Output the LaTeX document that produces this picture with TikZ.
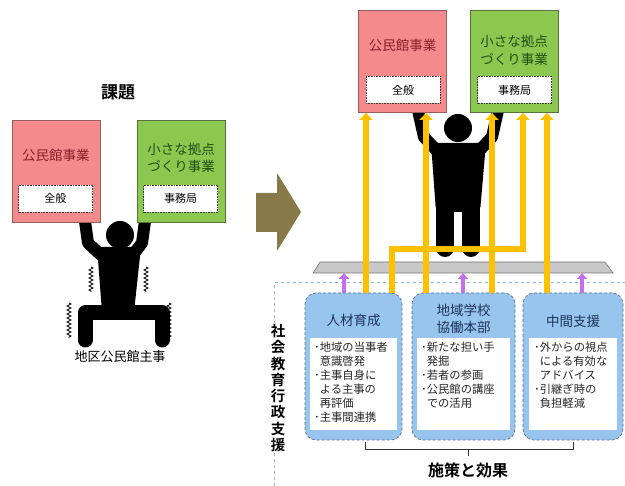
\documentclass[tikz,border=0pt]{standalone}
\usepackage{fontspec}
\setmainfont{Noto Sans CJK JP}[BoldFont={Noto Sans CJK JP Bold}]
\usetikzlibrary{arrows.meta,decorations.pathmorphing}

\definecolor{pinkfill}{RGB}{244,138,140}
\definecolor{pinkline}{RGB}{150,95,95}
\definecolor{pinktext}{RGB}{140,30,40}
\definecolor{greenfill}{RGB}{140,200,80}
\definecolor{greenline}{RGB}{85,115,60}
\definecolor{greentext}{RGB}{30,80,20}
\definecolor{bluefill}{RGB}{152,197,238}
\definecolor{blueline}{RGB}{90,110,140}
\definecolor{bluetext}{RGB}{30,50,90}
\definecolor{gold}{RGB}{255,192,0}
\definecolor{violet}{RGB}{196,112,240}
\definecolor{olive}{RGB}{135,122,72}
\definecolor{frameblue}{RGB}{150,180,215}
\definecolor{plate}{RGB}{200,200,200}

\begin{document}
\begin{tikzpicture}[x=1pt,y=-1pt,
  pinkbox/.style={draw=pinkline,fill=pinkfill,line width=0.8pt,inner sep=0pt,
    minimum width=88pt,minimum height=102pt},
  greenbox/.style={draw=greenline,fill=greenfill,line width=0.8pt,inner sep=0pt,
    minimum width=88pt,minimum height=102pt},
  memo/.style={draw=black!75,densely dotted,fill=white,line width=0.6pt,inner sep=0pt,
    minimum width=74pt,minimum height=27pt,font=\fontsize{11}{13}\selectfont},
  boxtitle/.style={align=center,font=\fontsize{13.5}{17.5}\selectfont},
  bluebox/.style={draw=blueline,densely dashed,fill=bluefill,line width=0.7pt,
    rounded corners=11pt,inner sep=0pt,minimum height=147pt},
  sheet/.style={fill=white,inner sep=0pt,minimum height=92pt},
  bluetitle/.style={align=center,text=bluetext,font=\fontsize{13.5}{17}\selectfont},
  bullets/.style={align=left,anchor=north west,inner sep=0pt,text=black!85,
    font=\fontsize{11.3}{14}\selectfont},
  yarrow/.style={draw=gold,line width=6pt,-{Triangle[width=13pt,length=7pt]}},
  parrow/.style={draw=violet,line width=4pt,-{Triangle[width=10pt,length=6pt]}},
  limb/.style={draw=black,line cap=round,line join=round},
  shiver/.style={decorate,decoration={zigzag,segment length=4pt,amplitude=2pt},line width=0.7pt},
  heading/.style={font=\bfseries\fontsize{17}{20}\selectfont}
]
\useasboundingbox (0,0) rectangle (625,486);

% ---------- left: the overloaded officer ----------
\node[heading] (issue) at (118,92) {課題};

% arms reaching up under the boxes
\draw[limb,line width=12pt] (84,214) -- (88,243) -- (102,256);
\draw[limb,line width=12pt] (146,214) -- (142,243) -- (132,256);
\fill[rounded corners=5pt] (97,247) -- (141,247) -- (134,312) -- (102,312) -- cycle;
\fill (120,235) circle[radius=14pt];
% bent legs
\draw[limb,line width=15pt] (85,340) -- (85,313) -- (162,313) -- (162,340);
% trembling marks
\draw[shiver] (91,267) -- (91,292);
\draw[shiver] (146,267) -- (146,292);
\draw[shiver] (69,303) -- (69,338);
\draw[shiver] (169,303) -- (169,338);

\node[pinkbox] (lp) at (56,171.5) {};
\node[boxtitle,text=pinktext] (lpt) at (56,155) {公民館事業};
\node[memo] (lpm) at (55.5,198.5) {全般};
\node[greenbox] (lg) at (181,171.5) {};
\node[boxtitle,text=greentext] (lgt) at (181,158) {小さな拠点\\づくり事業};
\node[memo] (lgm) at (180.5,198.5) {事務局};

\node[font=\fontsize{13}{15}\selectfont] (officer) at (120,357) {地区公民館主事};

% ---------- transition arrow ----------
\fill[olive] (256,193) -- (277,193) -- (277,173) -- (301,212) -- (277,251)
  -- (277,232) -- (256,232) -- cycle;

% ---------- right: the supported officer ----------
% support frame
\draw[frameblue,dashed,line width=1pt] (274,486) -- (274,283) -- (625,283);

% platform
\draw[draw=black!55,fill=plate,line width=0.6pt] (320,262) -- (605,262) -- (613,273) -- (313,273) -- cycle;
\coordinate (platbase) at (0,273);

% standing figure
\draw[limb,line width=12pt] (417,106) -- (424,137) -- (437,151);
\draw[limb,line width=12pt] (499,106) -- (492,137) -- (479,151);
\fill[rounded corners=5pt] (431,143) -- (486,143) -- (480,212) -- (436,212) -- cycle;
\fill (458,128) circle[radius=14pt];
\draw[limb,line width=18pt] (445,205) -- (445,248);
\draw[limb,line width=18pt] (471,205) -- (471,248);

% supported projects
\node[pinkbox] (p1) at (402.5,61.5) {};
\node[boxtitle,text=pinktext] (p1t) at (402.5,45) {公民館事業};
\node[memo] (p1m) at (403,90) {全般};
\node[greenbox] (g1) at (514,61.5) {};
\node[boxtitle,text=greentext] (g1t) at (514,50.5) {小さな拠点\\づくり事業};
\node[memo] (g1m) at (514.5,90) {事務局};

% measures
\node[bluebox,minimum width=97pt] (b1) at (353.5,366.5) {};
\node[sheet,minimum width=87pt] (s1) at (353.5,384) {};
\node[bluetitle] (b1t) at (353.5,320) {人材育成};
\node[bullets] (b1l) at (314,342) {･地域の当事者\\\hphantom{･}意識啓発\\･主事自身に\\\hphantom{･}よる主事の\\\hphantom{･}再評価\\･主事間連携};

\node[bluebox,minimum width=103pt] (b2) at (463.5,366.5) {};
\node[sheet,minimum width=93pt] (s2) at (463.5,384) {};
\node[bluetitle] (b2t) at (463.5,318.5) {地域学校\\協働本部};
\node[bullets] (b2l) at (421,342) {･新たな担い手\\\hphantom{･}発掘\\･若者の参画\\･公民館の講座\\\hphantom{･}での活用};

\node[bluebox,minimum width=100pt] (b3) at (573,366.5) {};
\node[sheet,minimum width=88pt] (s3) at (573,384) {};
\node[bluetitle] (b3t) at (573,321) {中間支援};
\node[bullets] (b3l) at (534,342) {･外からの視点\\\hphantom{･}による有効な\\\hphantom{･}アドバイス\\･引継ぎ時の\\\hphantom{･}負担軽減};

% support pushing up the platform
\coordinate (q1) at (344,0);
\coordinate (q2) at (463,0);
\coordinate (q3) at (582,0);
\draw[parrow] (b1.north -| q1) -- (platbase -| q1);
\draw[parrow] (b2.north -| q2) -- (platbase -| q2);
\draw[parrow] (b3.north -| q3) -- (platbase -| q3);

% effects reaching the projects
\coordinate (c1) at (366,0);
\coordinate (c2) at (392,0);
\coordinate (c3) at (426,0);
\coordinate (c4) at (492,0);
\coordinate (c5) at (523,0);
\coordinate (c6) at (547,0);
\coordinate (bend) at (0,249);
\draw[yarrow] (b1.north -| c1) -- (p1.south -| c1);
\draw[yarrow] (b2.north -| c3) -- (p1.south -| c3);
\draw[yarrow] (b2.north -| c4) -- (g1.south -| c4);
\draw[yarrow] (b3.north -| c6) -- (g1.south -| c6);
\draw[yarrow,line join=miter] (b1.north -| c2) -- (c2 |- bend) -- (c5 |- bend) -- (g1.south -| c5);

% vertical label over the frame edge
\node[font=\bfseries\fontsize{14.5}{16.3}\selectfont,align=center,fill=white,inner sep=1pt]
  (admin) at (278,388) {社\\会\\教\\育\\行\\政\\支\\援};

% bracket gathering the measures
\coordinate (brl) at (365,442);
\coordinate (brr) at (573,442);
\coordinate (brm) at (468,449);
\draw[black!80,line width=0.9pt] (brl) -- (brl |- brm) -- (brr |- brm) -- (brr);
\draw[black!80,line width=0.9pt] (brm) -- ++(0,7);
\node[heading,font=\bfseries\fontsize{16}{18}\selectfont] (result) at (468,470) {施策と効果};
\end{tikzpicture}
\end{document}
